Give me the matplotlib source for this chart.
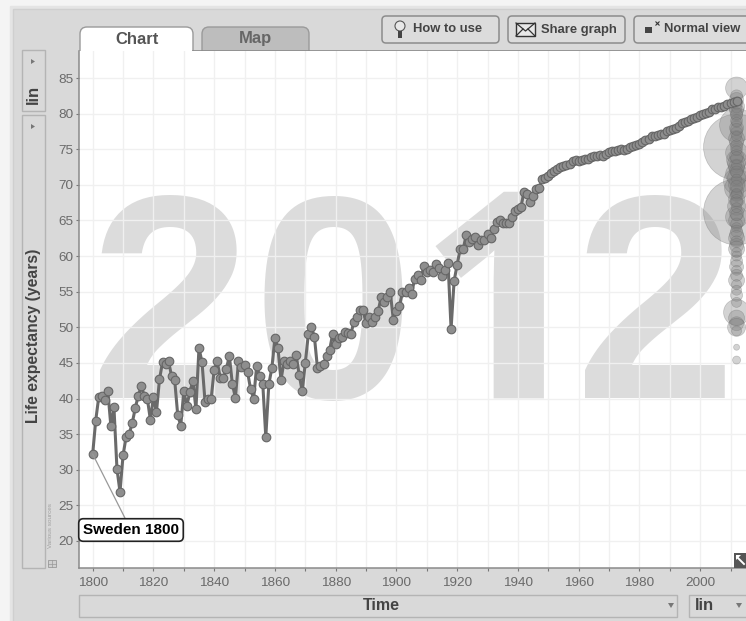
import numpy as np
import matplotlib
matplotlib.use("Agg")
import matplotlib.pyplot as plt
import matplotlib.patheffects as pe
from matplotlib.patches import FancyBboxPatch, Rectangle, Polygon, Circle

plt.rcParams['font.family'] = ['Liberation Sans', 'DejaVu Sans']

# Sweden, one value per year from 1800 to 2012
years = list(range(1800, 2013))
life_exp = [
    32.2, 36.9, 40.2, 40.3, 39.8, 41.0, 36.1, 38.8, 30.1, 26.9,
    32.0, 34.6, 35.0, 36.5, 38.6, 40.4, 41.7, 40.4, 40.0, 37.0,
    40.2, 38.1, 42.7, 45.1, 44.9, 45.2, 43.1, 42.6, 37.7, 36.2,
    41.0, 39.0, 40.9, 42.5, 38.5, 47.1, 45.1, 39.5, 40.0, 39.9,
    44.0, 45.2, 42.9, 42.9, 44.1, 46.0, 42.0, 40.1, 45.2, 44.4,
    44.7, 43.7, 41.3, 40.0, 44.6, 43.1, 42.1, 34.6, 42.0, 44.3,
    48.5, 47.1, 42.6, 45.2, 44.8, 45.3, 44.8, 46.1, 43.3, 41.0,
    45.0, 49.0, 50.0, 48.7, 44.3, 44.6, 44.8, 46.0, 46.8, 49.0,
    47.6, 48.5, 48.7, 49.4, 49.2, 49.0, 50.8, 51.5, 52.5, 52.4,
    50.6, 51.4, 50.7, 51.4, 52.3, 54.3, 53.5, 54.2, 54.9, 51.0,
    52.3, 53.0, 54.9, 55.0, 55.5, 54.7, 56.8, 57.3, 56.6, 58.6,
    57.8, 58.0, 57.8, 58.9, 58.3, 57.2, 58.1, 59.0, 49.8, 56.5,
    58.8, 61.0, 61.0, 63.0, 62.0, 62.4, 62.7, 61.5, 62.2, 62.2,
    63.1, 62.6, 63.8, 64.8, 65.0, 64.7, 64.7, 64.6, 65.5, 66.4,
    66.6, 66.9, 69.0, 68.7, 67.6, 68.4, 69.4, 69.5, 70.8, 71.0,
    71.3, 71.6, 72.0, 72.3, 72.5, 72.6, 72.8, 72.9, 73.3, 73.5,
    73.4, 73.5, 73.6, 73.6, 73.9, 74.0, 74.1, 74.2, 74.1, 74.3,
    74.6, 74.7, 74.8, 74.9, 75.0, 74.9, 75.0, 75.3, 75.4, 75.6,
    75.8, 76.0, 76.3, 76.5, 76.8, 76.8, 77.0, 77.2, 77.2, 77.6,
    77.7, 77.8, 78.0, 78.3, 78.7, 78.9, 79.0, 79.2, 79.4, 79.6,
    79.8, 80.0, 80.1, 80.3, 80.6, 80.7, 80.9, 81.0, 81.1, 81.4,
    81.5, 81.7, 81.8,
]

# other countries in 2012 (column at the right), radius in pixels
bubble_year = 2012
bubble_life = [
    75.3, 66.2, 78.4, 83.6, 70.5, 73.5, 52.1, 65.5, 71.5, 69.5,
    82.0, 81.0, 80.5, 79.8, 79.0, 78.0, 77.3, 76.5, 76.0, 75.0,
    74.5, 74.0, 73.0, 72.5, 72.0, 71.0, 70.0, 69.0, 68.5, 68.0,
    67.5, 67.0, 66.0, 65.0, 64.5, 64.0, 63.5, 63.0, 62.5, 62.0,
    61.5, 61.0, 60.5, 60.0, 59.3, 58.5, 58.0, 57.3, 56.6, 56.0,
    55.2, 54.5, 53.5, 51.3, 50.5, 50.0, 49.5, 47.2, 45.4, 82.5,
    81.5, 80.8, 80.0, 78.8, 77.8, 76.8, 75.5, 74.8, 73.8, 72.8,
    71.8, 70.8, 69.8, 68.8, 67.8, 66.8, 65.8,
]
bubble_radius = [
    33, 33, 17, 11, 13, 10, 13, 11, 11, 12,
    7, 8, 7, 6, 6, 7, 6, 8, 7, 6,
    11, 7, 9, 8, 7, 9, 8, 7, 6, 8,
    6, 9, 7, 8, 6, 5, 6, 7, 8, 6,
    7, 8, 5, 5, 6, 7, 5, 6, 8, 5,
    5, 6, 5, 8, 7, 9, 5, 3, 4, 6,
    6, 5, 6, 5, 6, 5, 6, 5, 6, 5,
    6, 5, 6, 5, 6, 5, 6,
]

x_ticks = list(range(1800, 2001, 20))
x_grid = list(range(1800, 2011, 10))
y_ticks = list(range(20, 86, 5))

fig = plt.figure(figsize=(7.46, 6.21), dpi=100, facecolor='#f4f4f4')

# page furniture, in pixels
bg = fig.add_axes([0, 0, 1, 1], zorder=0)
bg.set_xlim(0, 746)
bg.set_ylim(621, 0)
bg.axis('off')


def box(ax, x0, y0, x1, y1, fc='#d9d9d9', ec='#b4b4b4', r=0, lw=1.0):
    if r == 0:
        ax.add_patch(Rectangle((x0, y0), x1 - x0, y1 - y0, fc=fc, ec=ec, lw=lw))
    else:
        ax.add_patch(FancyBboxPatch((x0 + r, y0 + r), x1 - x0 - 2 * r, y1 - y0 - 2 * r,
                                    boxstyle=f"round,pad={r},rounding_size={r}",
                                    fc=fc, ec=ec, lw=lw))


box(bg, 10, 6, 760, 640, fc='#e4e4e4', ec='#e4e4e4')
box(bg, 13, 9, 760, 640, fc='#d9d9d9', ec='#cfcfcf')

# tabs
box(bg, 202, 27, 309, 60, fc='#bdbdbd', ec='#9a9a9a', r=7)
box(bg, 80, 27, 193, 60, fc='white', ec='#9a9a9a', r=7)
bg.plot([193, 746], [51, 51], color='#8a8a8a', lw=1.2)
bg.text(137, 39, 'Chart', ha='center', va='center', fontsize=12, fontweight='bold', color='#555555')
bg.text(255, 39, 'Map', ha='center', va='center', fontsize=12, fontweight='bold', color='#666666')

# buttons
for x0, x1, label, tx in [(382, 499, 'How to use', 413),
                          (508, 625, 'Share graph', 541),
                          (634, 760, 'Normal view', 664)]:
    box(bg, x0, 16, x1, 43, fc='#dcdcdc', ec='#8c8c8c', r=4, lw=1.1)
    bg.text(tx, 29.5, label, ha='left', va='center', fontsize=9.4, fontweight='bold', color='#444444')

# bulb
bg.add_patch(Circle((400, 26), 5, fc='#e8e8e8', ec='#555555', lw=0.8))
bg.add_patch(Rectangle((398, 31), 4, 7, fc='#444444', ec='none'))
# envelope
bg.add_patch(Rectangle((516, 23), 19, 13, fc='#e8e8e8', ec='#333333', lw=1.0))
bg.plot([516, 525.5, 535], [23, 31, 23], color='#333333', lw=0.9)
bg.plot([516, 523], [36, 29], color='#333333', lw=0.9)
bg.plot([535, 528], [36, 29], color='#333333', lw=0.9)
# normal view
bg.add_patch(Rectangle((645, 27), 7, 6, fc='#444444', ec='none'))
bg.plot([657], [23], marker='x', ms=2.5, color='#333333', mew=0.8)

# left panels
box(bg, 22, 50, 45, 111)
box(bg, 22, 115, 45, 568)
bg.text(33, 94, 'lin', rotation=90, ha='center', va='center', fontsize=12, fontweight='bold', color='#444444')
bg.add_patch(Polygon([[31, 59], [31, 64], [35, 61.5]], fc='#777777', ec='none'))
bg.add_patch(Polygon([[31, 124], [31, 129], [35, 126.5]], fc='#777777', ec='none'))

# bottom panels
box(bg, 79, 595, 677, 617)
box(bg, 689, 595, 760, 617)
bg.text(695, 605, 'lin', ha='left', va='center', fontsize=12, fontweight='bold', color='#444444')
bg.add_patch(Polygon([[668, 603], [674, 603], [671, 608]], fc='#777777', ec='none'))
bg.add_patch(Polygon([[736, 603], [742, 603], [739, 608]], fc='#777777', ec='none'))

# sources
bg.text(51, 526, 'Various sources', rotation=90, ha='center', va='center', fontsize=4.6, color='#a0a0a0')
bg.add_patch(Rectangle((48, 560), 8, 7, fc='#d0d0d0', ec='#999999', lw=0.6))
bg.plot([48, 56], [563.5, 563.5], color='#999999', lw=0.5)
bg.plot([52, 52], [560, 567], color='#999999', lw=0.5)

# the chart
ax = fig.add_axes([79 / 746, 53 / 621, 667 / 746, 517 / 621], zorder=1)
ax.set_xlim(1795.5, 2015.1)
ax.set_ylim(16.2, 88.8)
ax.set_facecolor('white')

# big year behind the data, the 1 comes from another font since Liberation's has a foot
ax.text(1825.8, 40.1, '2', ha='center', va='baseline', fontsize=209, fontweight='bold', color='#dcdcdc', zorder=0.5)
ax.text(1879.2, 40.1, '0', ha='center', va='baseline', fontsize=209, fontweight='bold', color='#dcdcdc', zorder=0.5)
ax.text(1935.5, 40.6, '1', ha='center', va='baseline', fontsize=200, fontweight='bold', family='Open Sans',
        color='#dcdcdc', zorder=0.5,
        path_effects=[pe.withStroke(linewidth=6, foreground='#dcdcdc', capstyle='butt', joinstyle='miter')])
ax.text(1985.5, 40.1, '2', ha='center', va='baseline', fontsize=209, fontweight='bold', color='#dcdcdc', zorder=0.5)

ax.set_xticks(x_grid)
ax.set_xticklabels([str(v) if v in x_ticks else '' for v in x_grid])
ax.set_yticks(y_ticks)
ax.grid(True, color='#f0f0f0', lw=1.0, zorder=1)
ax.set_axisbelow(True)
ax.tick_params(axis='x', length=2.5, width=0.8, color='#777777', labelcolor='#6a6a6a', labelsize=9.7, pad=4)
ax.tick_params(axis='y', length=2, width=0.8, color='#777777', labelcolor='#6a6a6a', labelsize=9.7, pad=2)
for s in ['top', 'right']:
    ax.spines[s].set_visible(False)
for s in ['left', 'bottom']:
    ax.spines[s].set_color('#8a8a8a')
    ax.spines[s].set_linewidth(1.1)

ax.scatter([bubble_year] * len(bubble_life), bubble_life,
           s=[(2 * r * 0.72) ** 2 for r in bubble_radius],
           color='#808080', alpha=0.34, edgecolors='#666666', linewidths=0.5, zorder=3)
ax.plot(years, life_exp, color='#6a6a6a', lw=2.2, marker='o', ms=6.2,
        mfc='#8e8e8e', mec='#666666', mew=0.8, zorder=4)

ax.set_ylabel('Life expectancy (years)', fontsize=11.3, fontweight='bold', color='#444444', va='center')
ax.yaxis.set_label_coords((34 - 79) / 667, (568 - 336) / 517)
ax.set_xlabel('Time', fontsize=11.5, fontweight='bold', color='#444444', va='center')
ax.xaxis.set_label_coords((381 - 79) / 667, (568 - 605) / 517)

ax.annotate('Sweden 1800', xy=(years[0], life_exp[0]), xytext=(131, 621 - 530),
            textcoords='figure pixels', ha='center', va='center',
            fontsize=11, fontweight='bold', color='black', zorder=6, annotation_clip=False,
            bbox=dict(boxstyle='round,pad=0.28,rounding_size=0.3', fc='white', ec='#222222', lw=1.2),
            arrowprops=dict(arrowstyle='-', color='#999999', lw=0.9, shrinkA=0, shrinkB=0))

# resize handle, bottom right
top = fig.add_axes([0, 0, 1, 1], zorder=2)
top.set_xlim(0, 746)
top.set_ylim(621, 0)
top.axis('off')
top.add_patch(Rectangle((734, 553), 12, 15, fc='#555555', ec='none'))
top.plot([737, 744], [557, 564], color='white', lw=1.4)
top.add_patch(Polygon([[736, 555], [741, 555], [736, 560]], fc='white', ec='none'))

fig.savefig('out.png', dpi=100)
